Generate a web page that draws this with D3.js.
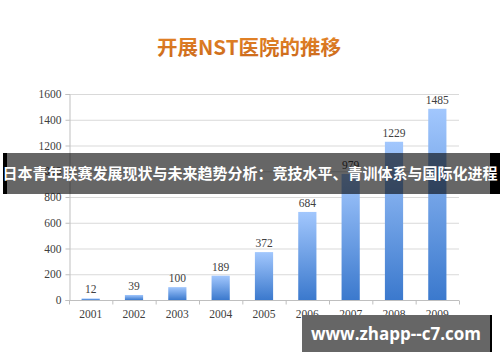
<!DOCTYPE html>
<html>
<head>
<meta charset="utf-8">
<script src="https://cdn.jsdelivr.net/npm/d3@7"></script>
<style>
  html, body { margin: 0; padding: 0; background: #fff; }
  svg { display: block; }
</style>
</head>
<body>
<svg id="chart" width="500" height="362"></svg>
<script>
// --- data ---
const years = ['2001','2002','2003','2004','2005','2006','2007','2008','2009'];
const counts = [12, 39, 100, 189, 372, 684, 979, 1229, 1485];
const yTicks = [0, 200, 400, 600, 800, 1000, 1200, 1400, 1600];

const chartTitle = '开展NST医院的推移';
const bannerText = '日本青年联赛发展现状与未来趋势分析：竞技水平、青训体系与国际化进程';
const watermark = 'www.zhapp--c7.com';

const svg = d3.select('#chart');
const plotL = 69, plotR = 459, plotT = 94, plotB = 300;

// gradients
const defs = svg.append('defs');
const barGrad = defs.append('linearGradient').attr('id','barGrad')
  .attr('x1',0).attr('y1',0).attr('x2',0).attr('y2',1);
barGrad.append('stop').attr('offset','0%').attr('stop-color','#a2c7fd');
barGrad.append('stop').attr('offset','100%').attr('stop-color','#3b79cd');

const titleGrad = defs.append('linearGradient').attr('id','titleGrad')
  .attr('x1',0).attr('y1',0).attr('x2',0).attr('y2',1);
titleGrad.append('stop').attr('offset','0%').attr('stop-color','#e8892a');
titleGrad.append('stop').attr('offset','100%').attr('stop-color','#c8661a');

// title
svg.append('text')
  .attr('x', 249).attr('y', 55)
  .attr('text-anchor','middle')
  .attr('font-family','"Noto Sans CJK SC", sans-serif')
  .attr('font-weight','bold')
  .attr('font-size', 20.5)
  .attr('fill','url(#titleGrad)')
  .text(chartTitle);

// scales
const x = d3.scaleBand().domain(years).range([plotL, plotR]).paddingInner(0.58).paddingOuter(0.29);
const xb = d3.scaleBand().domain(years).range([plotL, plotR]);
const y = d3.scaleLinear().domain([0, 1600]).range([plotB, plotT]);

// gridlines
svg.append('g').selectAll('line').data(yTicks.filter(d => d > 0)).join('line')
  .attr('x1', plotL).attr('x2', plotR)
  .attr('y1', d => y(d) + 0.5).attr('y2', d => y(d) + 0.5)
  .attr('stroke','#d9d9d9').attr('stroke-width',1);

// y axis
const yAxis = svg.append('g').attr('transform',`translate(${plotL + 0.5},0)`)
  .call(d3.axisLeft(y).tickValues(yTicks).tickSize(4).tickPadding(4).tickFormat(d3.format('d')));
yAxis.select('.domain').attr('stroke','#bfbfbf');
yAxis.selectAll('.tick line').attr('stroke','#bfbfbf');
yAxis.selectAll('text')
  .attr('font-family','"Liberation Serif", serif').attr('font-size',11.5).attr('fill','#404040');

// bars
svg.append('g').selectAll('rect').data(counts).join('rect')
  .attr('x', (d, i) => x(years[i]))
  .attr('width', x.bandwidth())
  .attr('y', d => y(d))
  .attr('height', d => plotB - y(d))
  .attr('fill','url(#barGrad)');

// value labels
svg.append('g').selectAll('text').data(counts).join('text')
  .attr('x', (d, i) => x(years[i]) + x.bandwidth() / 2)
  .attr('y', d => y(d) - 5)
  .attr('text-anchor','middle')
  .attr('font-family','"Liberation Serif", serif').attr('font-size',11.5).attr('fill','#404040')
  .text(d => d);

// x axis
const xAxisG = svg.append('g').attr('transform',`translate(0,${plotB + 0.5})`);
xAxisG.append('line').attr('x1', plotL).attr('x2', plotR).attr('stroke','#bfbfbf');
xAxisG.selectAll('line.tk').data(years.concat(['end'])).join('line').attr('class','tk')
  .attr('x1', (d, i) => (i < years.length ? xb(d) : plotR) + 0.5)
  .attr('x2', (d, i) => (i < years.length ? xb(d) : plotR) + 0.5)
  .attr('y1', 0).attr('y2', 4).attr('stroke','#bfbfbf');
xAxisG.selectAll('text').data(years).join('text')
  .attr('x', d => xb(d) + xb.bandwidth() / 2)
  .attr('y', 17)
  .attr('text-anchor','middle')
  .attr('font-family','"Liberation Serif", serif').attr('font-size',11.5).attr('fill','#404040')
  .text(d => d);

// banner overlay
svg.append('rect').attr('x', 3).attr('y', 153).attr('width', 4).attr('height', 41).attr('fill','#000');
svg.append('rect').attr('x', 7).attr('y', 153).attr('width', 483).attr('height', 41).attr('fill','rgba(0,0,0,0.6)');
svg.append('rect').attr('x', 490).attr('y', 153).attr('width', 10).attr('height', 41).attr('fill','#000');
svg.append('text')
  .attr('x', 250).attr('y', 179)
  .attr('text-anchor','middle')
  .attr('font-family','"Noto Sans CJK SC", sans-serif')
  .attr('font-weight','bold')
  .attr('font-size', 15)
  .attr('fill','#fff')
  .text(bannerText);

// watermark
svg.append('rect').attr('x', 302).attr('y', 315).attr('width', 188).attr('height', 37).attr('fill','#666');
svg.append('rect').attr('x', 490).attr('y', 315).attr('width', 2).attr('height', 37).attr('fill','#000');
svg.append('text')
  .attr('x', 396).attr('y', 340)
  .attr('text-anchor','middle')
  .attr('font-family','"Open Sans", sans-serif')
  .attr('font-weight','bold')
  .attr('font-size', 17)
  .attr('fill','#fff')
  .text(watermark);
</script>
</body>
</html>
